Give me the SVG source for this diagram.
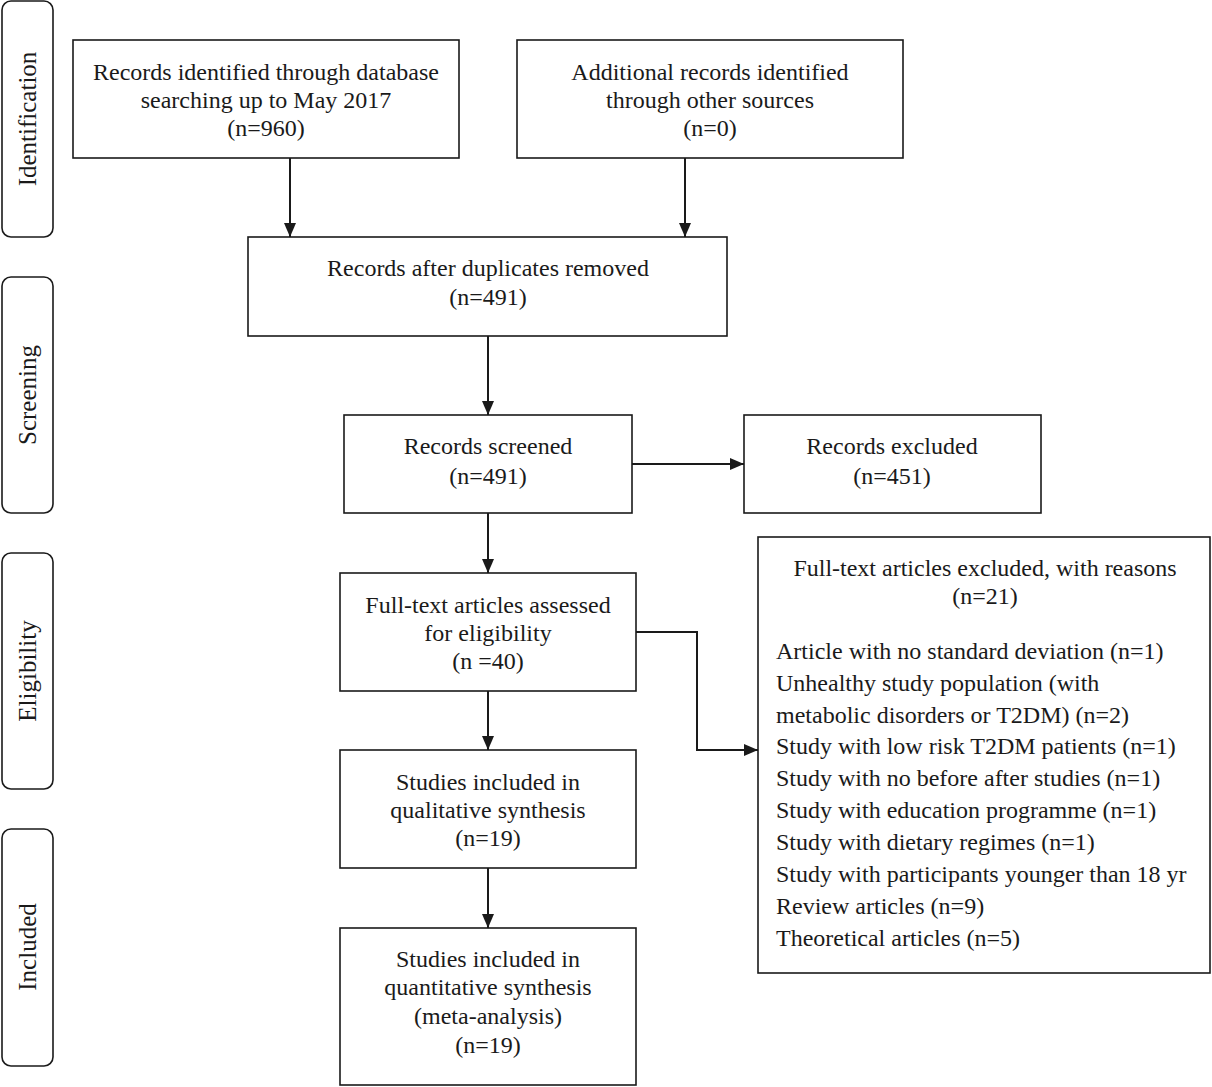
<svg xmlns="http://www.w3.org/2000/svg" width="1212" height="1087" viewBox="0 0 1212 1087">
<style>
  .box { fill: #ffffff; stroke: #1a1a1a; stroke-width: 1.6; }
  .side { fill: #ffffff; stroke: #1a1a1a; stroke-width: 1.6; }
  .t { font-family: "Liberation Serif", "Times New Roman", serif; font-size: 24px; fill: #1a1a1a; }
  .c { text-anchor: middle; }
  .st { font-family: "Liberation Serif", "Times New Roman", serif; font-size: 25px; fill: #1a1a1a; text-anchor: middle; }
  .conn { fill: none; stroke: #1a1a1a; stroke-width: 2; }
</style>
<defs>
  <marker id="ah" markerUnits="userSpaceOnUse" markerWidth="14" markerHeight="12" refX="14" refY="6" orient="auto">
    <path d="M0,0 L14,6 L0,12 Z" fill="#1a1a1a"/>
  </marker>
</defs>
<rect x="0" y="0" width="1212" height="1087" fill="#ffffff"/>

<g id="stage-identification">
  <rect class="side" x="2" y="1" width="51" height="236" rx="9"/>
  <text class="st" transform="translate(36,119) rotate(-90)">Identification</text>
</g>
<g id="stage-screening">
  <rect class="side" x="2" y="277" width="51" height="236" rx="9"/>
  <text class="st" transform="translate(36,395) rotate(-90)">Screening</text>
</g>
<g id="stage-eligibility">
  <rect class="side" x="2" y="553" width="51" height="236" rx="9"/>
  <text class="st" transform="translate(36,671) rotate(-90)">Eligibility</text>
</g>
<g id="stage-included">
  <rect class="side" x="2" y="829" width="51" height="237" rx="9"/>
  <text class="st" transform="translate(36,947) rotate(-90)">Included</text>
</g>

<g id="connectors">
  <line class="conn" x1="290" y1="158" x2="290" y2="237" marker-end="url(#ah)"/>
  <line class="conn" x1="685" y1="158" x2="685" y2="237" marker-end="url(#ah)"/>
  <line class="conn" x1="488" y1="336" x2="488" y2="415" marker-end="url(#ah)"/>
  <line class="conn" x1="632" y1="464" x2="744" y2="464" marker-end="url(#ah)"/>
  <line class="conn" x1="488" y1="513" x2="488" y2="573" marker-end="url(#ah)"/>
  <polyline class="conn" points="636,632 697,632 697,750 758,750" marker-end="url(#ah)"/>
  <line class="conn" x1="488" y1="691" x2="488" y2="750" marker-end="url(#ah)"/>
  <line class="conn" x1="488" y1="868" x2="488" y2="928" marker-end="url(#ah)"/>
</g>

<g id="records-identified">
  <rect class="box" x="73" y="40" width="386" height="118"/>
  <text class="t c" x="266" y="80">Records identified through database</text>
  <text class="t c" x="266" y="108">searching up to May 2017</text>
  <text class="t c" x="266" y="136">(n=960)</text>
</g>
<g id="additional-records">
  <rect class="box" x="517" y="40" width="386" height="118"/>
  <text class="t c" x="710" y="80">Additional records identified</text>
  <text class="t c" x="710" y="108">through other sources</text>
  <text class="t c" x="710" y="136">(n=0)</text>
</g>
<g id="after-duplicates">
  <rect class="box" x="248" y="237" width="479" height="99"/>
  <text class="t c" x="488" y="276">Records after duplicates removed</text>
  <text class="t c" x="488" y="305">(n=491)</text>
</g>
<g id="records-screened">
  <rect class="box" x="344" y="415" width="288" height="98"/>
  <text class="t c" x="488" y="454">Records screened</text>
  <text class="t c" x="488" y="484">(n=491)</text>
</g>
<g id="records-excluded">
  <rect class="box" x="744" y="415" width="297" height="98"/>
  <text class="t c" x="892" y="454">Records excluded</text>
  <text class="t c" x="892" y="484">(n=451)</text>
</g>
<g id="fulltext-assessed">
  <rect class="box" x="340" y="573" width="296" height="118"/>
  <text class="t c" x="488" y="613">Full-text articles assessed</text>
  <text class="t c" x="488" y="641">for eligibility</text>
  <text class="t c" x="488" y="669">(n =40)</text>
</g>
<g id="fulltext-excluded">
  <rect class="box" x="758" y="537" width="452" height="436"/>
  <text class="t c" x="985" y="576">Full-text articles excluded, with reasons</text>
  <text class="t c" x="985" y="604">(n=21)</text>
  <text class="t" x="776" y="659">Article with no standard deviation (n=1)</text>
  <text class="t" x="776" y="691">Unhealthy study population (with</text>
  <text class="t" x="776" y="723">metabolic disorders or T2DM) (n=2)</text>
  <text class="t" x="776" y="754">Study with low risk T2DM patients (n=1)</text>
  <text class="t" x="776" y="786">Study with no before after studies (n=1)</text>
  <text class="t" x="776" y="818">Study with education programme (n=1)</text>
  <text class="t" x="776" y="850">Study with dietary regimes (n=1)</text>
  <text class="t" x="776" y="882">Study with participants younger than 18 yr</text>
  <text class="t" x="776" y="914">Review articles (n=9)</text>
  <text class="t" x="776" y="946">Theoretical articles (n=5)</text>
</g>
<g id="qualitative">
  <rect class="box" x="340" y="750" width="296" height="118"/>
  <text class="t c" x="488" y="790">Studies included in</text>
  <text class="t c" x="488" y="818">qualitative synthesis</text>
  <text class="t c" x="488" y="846">(n=19)</text>
</g>
<g id="quantitative">
  <rect class="box" x="340" y="928" width="296" height="157"/>
  <text class="t c" x="488" y="967">Studies included in</text>
  <text class="t c" x="488" y="995">quantitative synthesis</text>
  <text class="t c" x="488" y="1024">(meta-analysis)</text>
  <text class="t c" x="488" y="1053">(n=19)</text>
</g>
</svg>
